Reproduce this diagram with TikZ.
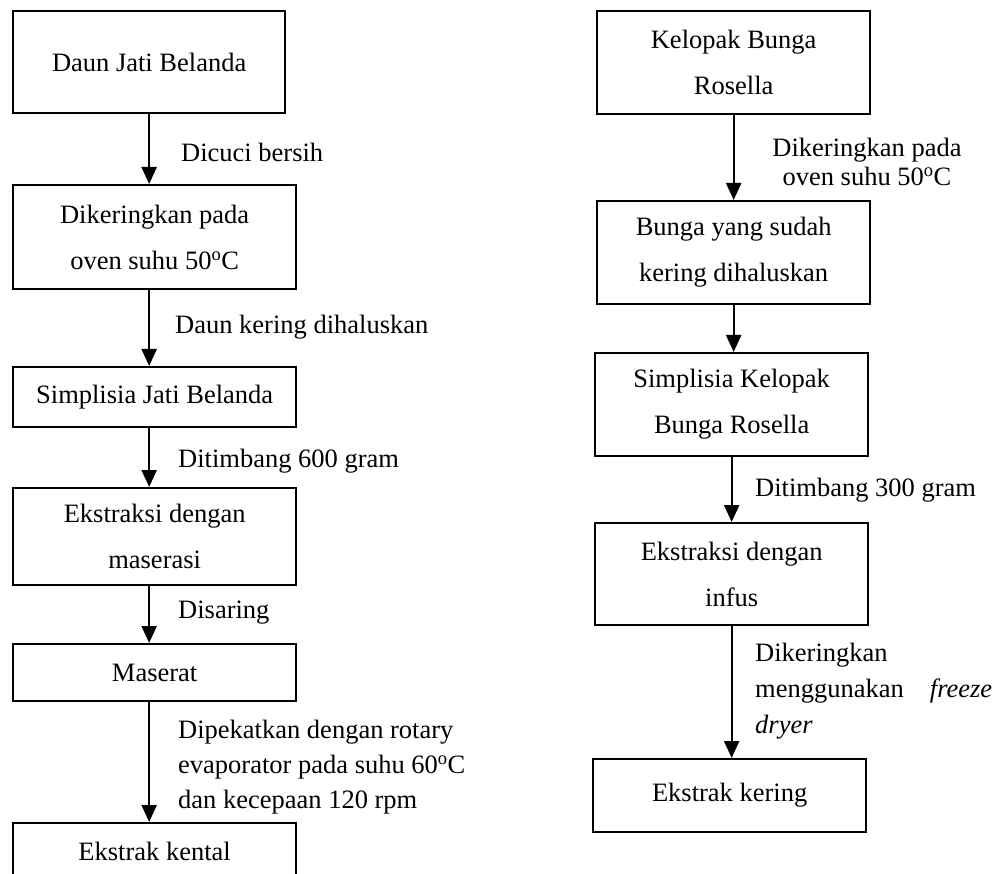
\documentclass[tikz,border=0pt]{standalone}
\usepackage{fontspec}
\setmainfont{Liberation Serif}
\usetikzlibrary{arrows.meta}

\begin{document}
\begin{tikzpicture}[x=1pt, y=-1pt,
    box/.style={draw, rectangle, line width=2.3pt, inner sep=0pt, anchor=north west, align=center, font=\fontsize{26.5}{46}\selectfont},
    note/.style={anchor=west, inner sep=0pt, align=left, font=\fontsize{26.5}{35}\selectfont},
    flow/.style={line width=2.3pt, -{Triangle[length=17pt,width=15pt]}}]
    \useasboundingbox (0,0) rectangle (996,874);

    % left column
    \node (daun) [box, minimum width=272, minimum height=102] at (12,10) {Daun Jati Belanda};
    \node (kering) [box, minimum width=283, minimum height=104] at (12,184) {Dikeringkan pada\\oven suhu 50\textsuperscript{o}C};
    \node (simplisia) [box, minimum width=283, minimum height=60] at (12,366) {Simplisia Jati Belanda};
    \node (maserasi) [box, minimum width=283, minimum height=97] at (12,487) {Ekstraksi dengan\\maserasi};
    \node (maserat) [box, minimum width=283, minimum height=57] at (12,643) {Maserat};
    \node (kental) [box, minimum width=283, minimum height=56] at (12,822) {Ekstrak kental};

    \node (cuci) [note] at (181,152) {Dicuci bersih};
    \node (halus) [note] at (175,327) {Daun kering dihaluskan};
    \node (timbang) [note] at (178,461) {Ditimbang 600 gram};
    \node (saring) [note] at (178,613) {Disaring};
    \node (pekat) [note] at (178,767) {Dipekatkan dengan rotary\\evaporator pada suhu 60\textsuperscript{o}C\\dan kecepaan 120 rpm};

    \draw[flow] (daun.south) -- (daun.south |- kering.north);
    \draw[flow] (kering.south -| daun.south) -- (daun.south |- simplisia.north);
    \draw[flow] (simplisia.south -| daun.south) -- (daun.south |- maserasi.north);
    \draw[flow] (maserasi.south -| daun.south) -- (daun.south |- maserat.north);
    \draw[flow] (maserat.south -| daun.south) -- (daun.south |- kental.north);

    % right column
    \node (kelopak) [box, minimum width=273, minimum height=103] at (596,10) {Kelopak Bunga\\Rosella};
    \node (bunga) [box, minimum width=273, minimum height=103] at (596,200) {Bunga yang sudah\\kering dihaluskan};
    \node (simkelopak) [box, minimum width=273, minimum height=103] at (594,352) {Simplisia Kelopak\\Bunga Rosella};
    \node (infus) [box, minimum width=273, minimum height=102] at (594,522) {Ekstraksi dengan\\infus};
    \node (ekstrak) [box, minimum width=273, minimum height=73] at (592,758) {Ekstrak kering};

    \node (oven) [note, anchor=center, align=center, font=\fontsize{26.5}{29}\selectfont] at (867,161.5) {Dikeringkan pada\\oven suhu 50\textsuperscript{o}C};
    \node (timbangr) [note] at (755,490) {Ditimbang 300 gram};
    \node (freeze) [note, text width=237, font=\fontsize{26.5}{36}\selectfont] at (755,691) {Dikeringkan\\menggunakan\hfill\textit{freeze}\\\textit{dryer}};

    \draw[flow] (kelopak.south) -- (kelopak.south |- bunga.north);
    \draw[flow] (bunga.south) -- (bunga.south |- simkelopak.north);
    \draw[flow] (simkelopak.south) -- (simkelopak.south |- infus.north);
    \draw[flow] (infus.south) -- (infus.south |- ekstrak.north);
\end{tikzpicture}
\end{document}
